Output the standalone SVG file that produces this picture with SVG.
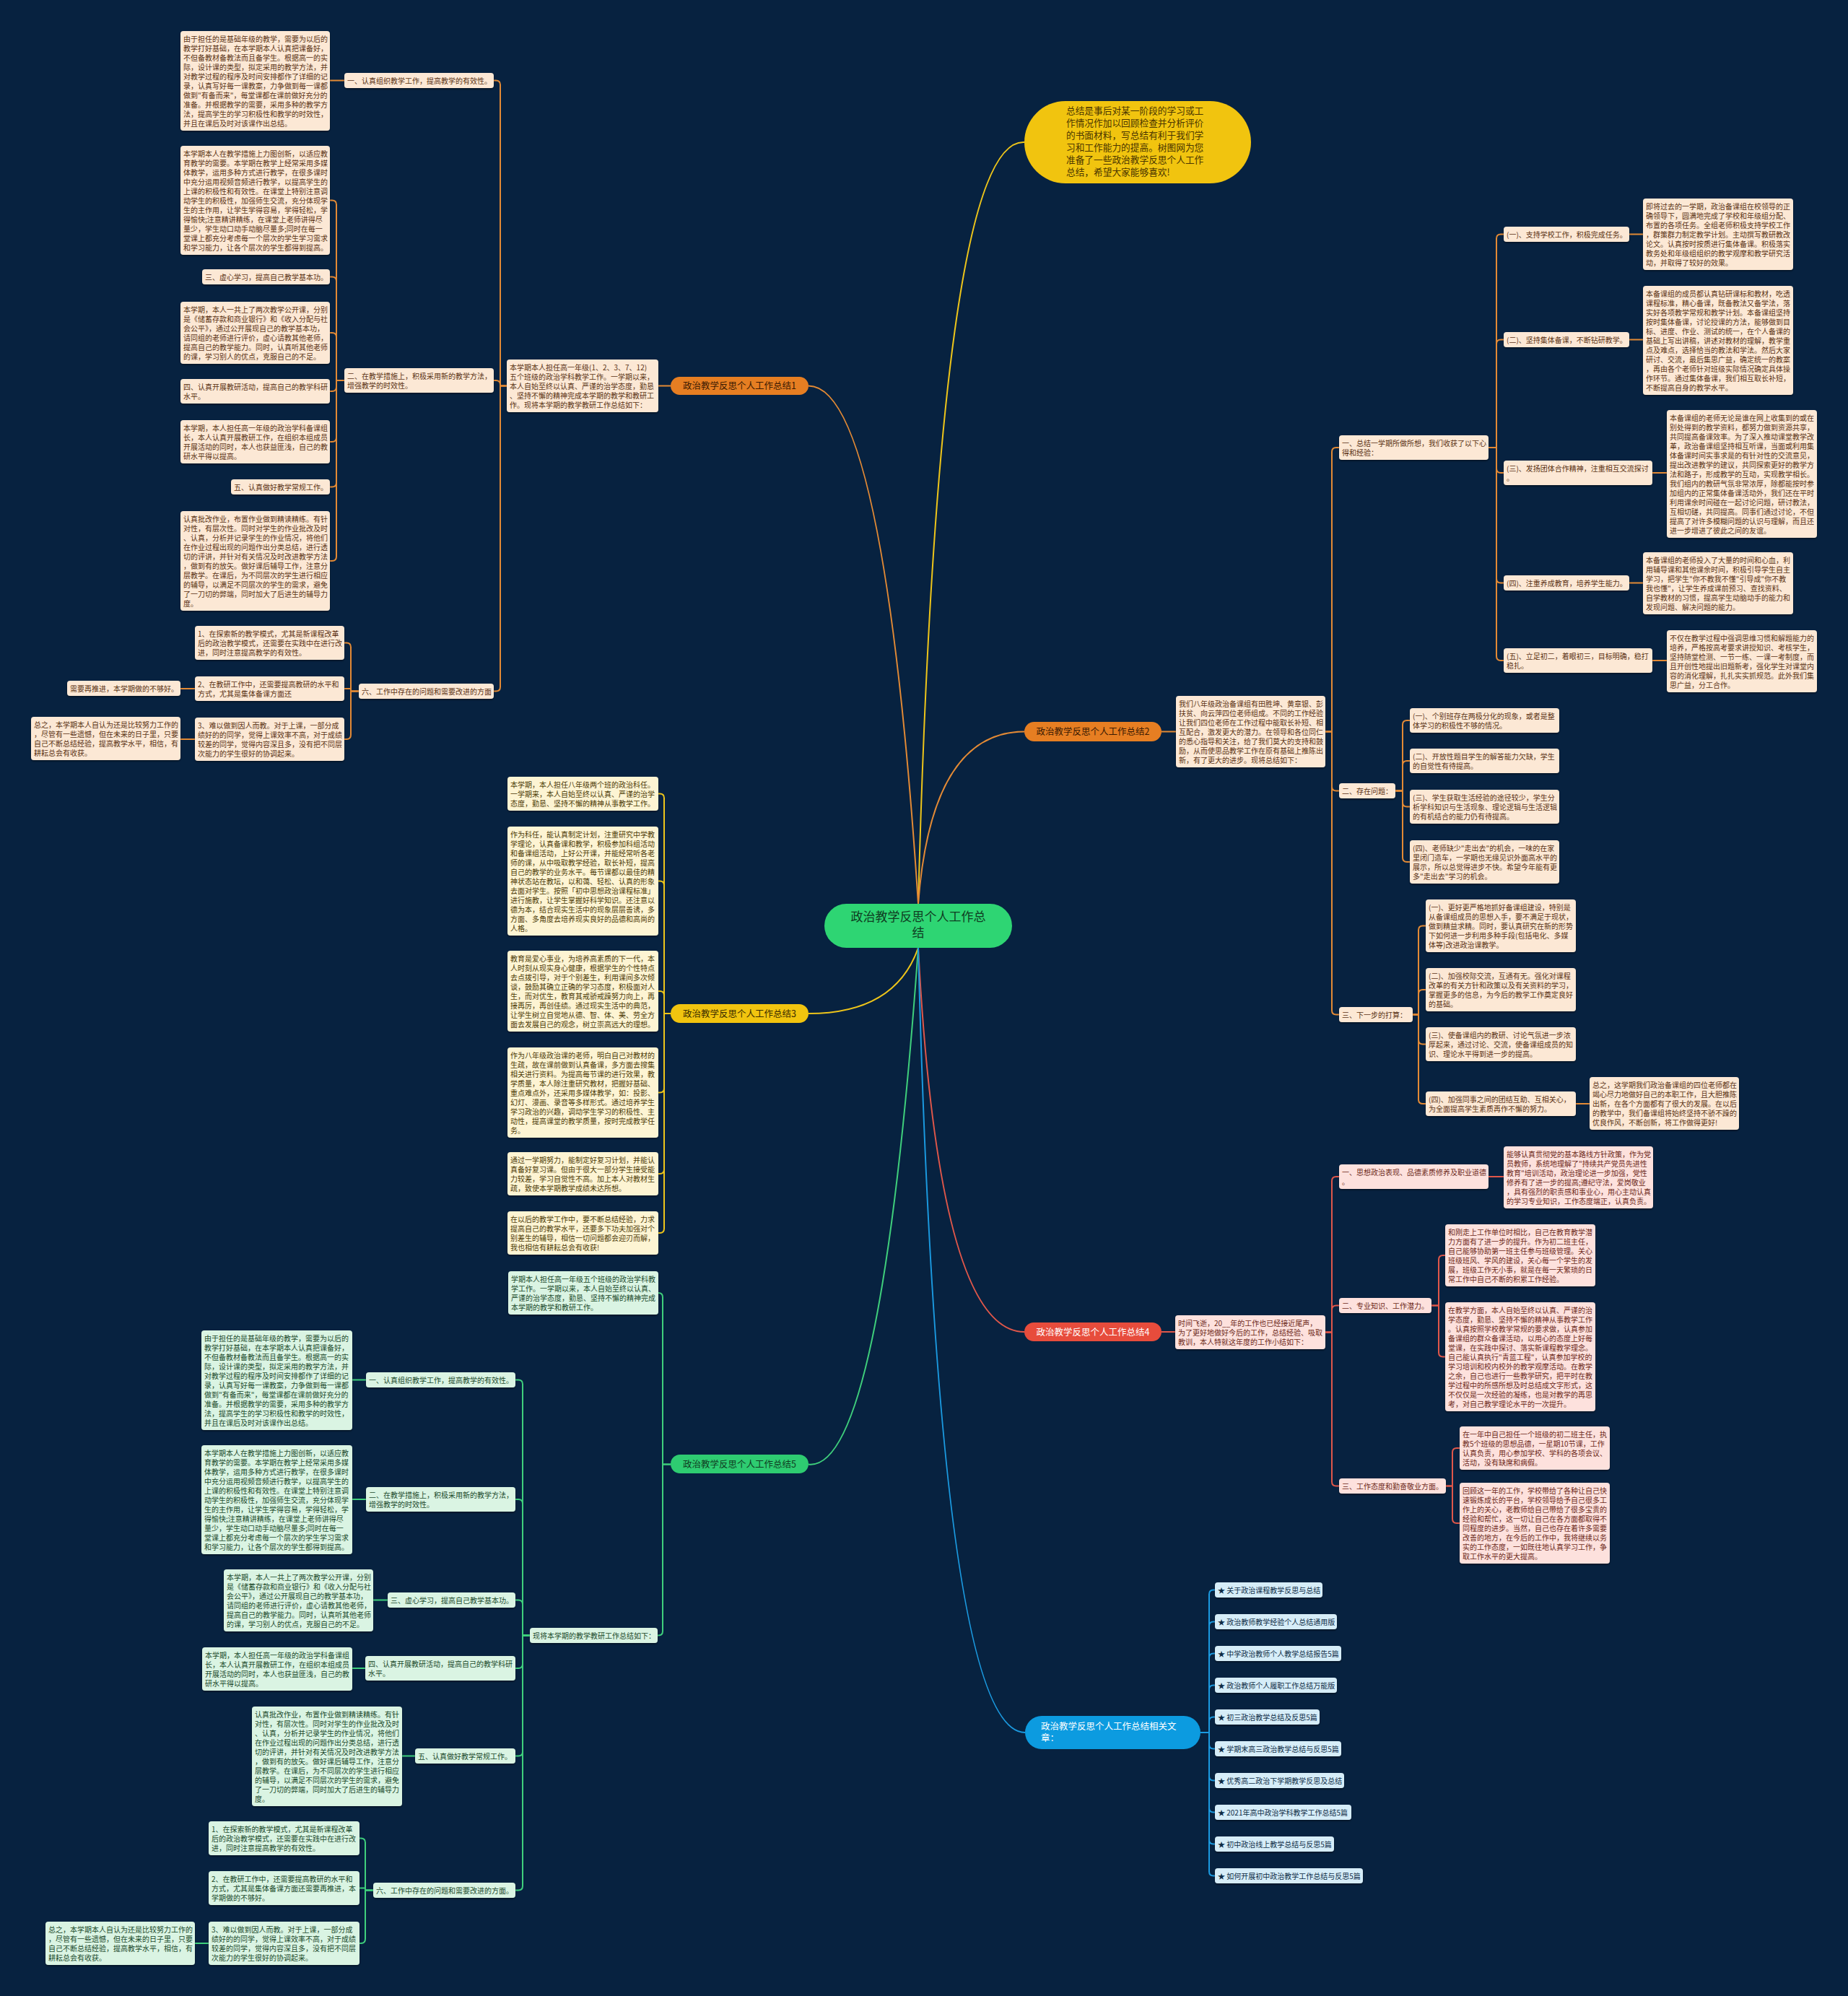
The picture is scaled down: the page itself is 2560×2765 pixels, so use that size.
<svg xmlns="http://www.w3.org/2000/svg" width="2560" height="2765" viewBox="0 0 2560 2765">
<style>
text{font-family:"Noto Sans CJK SC","Noto Sans",sans-serif;font-size:10px}
.bo{fill:#fce8d5}.to{fill:#5b3314}
.by{fill:#fdf4d3}.ty{fill:#4d3b06}
.bg{fill:#daf4e3}.tg{fill:#1b4a2c}
.bp{fill:#fde1dd}.tp{fill:#6e2a20}
.bb{fill:#d6edf8}.tb{fill:#0d2c46}
rect.n{filter:url(#sh)}
.c{fill:none;stroke-width:2}
.co{stroke:#e38a35}.cy{stroke:#eec51a}.cg{stroke:#3fcf7c}.cp{stroke:#e0574a}.cbl{stroke:#1b9ae0}
.bn{font-size:12.5px}
</style>
<defs>
<filter id="sh" x="-5%" y="-5%" width="110%" height="120%"><feDropShadow dx="0" dy="1.5" stdDeviation="1" flood-color="#000" flood-opacity="0.45"/></filter>
</defs>
<rect x="0" y="0" width="2560" height="2765" fill="#072240"/>

<g id="connectors">
<path class="c cy" d="M1272 1252 Q1300 190 1419 197"/>
<path class="c co" d="M1272 1252 Q1225 534.5 1120 534.5"/>
<path class="c co" d="M1272 1252 Q1290 1013.5 1419 1013.5"/>
<path class="c cy" d="M1272 1313 Q1240 1404 1120 1404"/>
<path class="c cp" d="M1272 1313 Q1300 1845 1419 1845"/>
<path class="c cg" d="M1272 1313 Q1220 2040 1120 2028.5"/>
<path class="c cbl" d="M1272 1313 Q1300 2400 1420 2400"/>

<g class="c co">
<path d="M929 534.5 H912"/>
<path d="M702 534.5 H693 V117.5 Q693 111.5 687 111.5 H684"/>
<path d="M702 534.5 H693 V533 Q693 527 687 527 H684"/>
<path d="M702 534.5 H693 V951.5 Q693 957.5 687 957.5 H684"/>
<path d="M477 111.5 H457"/>
<path d="M477 527 H466 V283.5 Q466 277.5 460 277.5 H457"/>
<path d="M477 527 H466 V389.5 Q466 383.5 460 383.5 H457"/>
<path d="M477 527 H466 V467 Q466 461 460 461 H457"/>
<path d="M477 527 H466 V536 Q466 542 460 542 H457"/>
<path d="M477 527 H466 V606 Q466 612 460 612 H457"/>
<path d="M477 527 H466 V668.5 Q466 674.5 460 674.5 H457"/>
<path d="M477 527 H466 V771 Q466 777 460 777 H457"/>
<path d="M497 957.5 H486 V896.5 Q486 890.5 480 890.5 H477"/>
<path d="M497 957.5 H486 V954 H477"/>
<path d="M497 957.5 H486 V1018 Q486 1024 480 1024 H477"/>
<path d="M270 954 H250"/>
<path d="M270 1024 H250"/>
</g>

<g class="c cy">
<path d="M929 1404 H920 V1105.5 Q920 1099.5 914 1099.5 H912"/>
<path d="M929 1404 H920 V1226.5 Q920 1220.5 914 1220.5 H912"/>
<path d="M929 1404 H920 V1379 Q920 1373 914 1373 H912"/>
<path d="M929 1404 H920 V1507.5 Q920 1513.5 914 1513.5 H912"/>
<path d="M929 1404 H920 V1620 Q920 1626 914 1626 H912"/>
<path d="M929 1404 H920 V1702 Q920 1708 914 1708 H912"/>
</g>

<g class="c cg">
<path d="M929 2028.5 H918 V1797 Q918 1791 912 1791"/>
<path d="M929 2028.5 H918 V2259.5 Q918 2265.5 912 2265.5 H911"/>
<path d="M734 2265.5 H724 V1917.5 Q724 1911.5 718 1911.5 H714"/>
<path d="M734 2265.5 H724 V2083 Q724 2077 718 2077 H714"/>
<path d="M734 2265.5 H724 V2222.5 Q724 2216.5 718 2216.5 H714"/>
<path d="M734 2265.5 H724 V2305 Q724 2311 718 2311 H714"/>
<path d="M734 2265.5 H724 V2426.5 Q724 2432.5 718 2432.5 H714"/>
<path d="M734 2265.5 H724 V2612.5 Q724 2618.5 718 2618.5 H714"/>
<path d="M507 1911.5 H488"/>
<path d="M507 2077 H488"/>
<path d="M537 2216.5 H517"/>
<path d="M506 2311 H488"/>
<path d="M575 2432.5 H557"/>
<path d="M517 2618.5 H506 V2552.5 Q506 2546.5 500 2546.5 H498"/>
<path d="M517 2618.5 H506 V2615.5 H498"/>
<path d="M517 2618.5 H506 V2686 Q506 2692 500 2692 H498"/>
<path d="M289 2692 H270"/>
</g>

<g class="c co">
<path d="M1609 1013.5 H1629"/>
<path d="M1836 1013.5 H1845 V626 Q1845 620 1851 620 H1855"/>
<path d="M1836 1013.5 H1845 V1089.5 Q1845 1095.5 1851 1095.5 H1855"/>
<path d="M1836 1013.5 H1845 V1399.5 Q1845 1405.5 1851 1405.5 H1855"/>
<path d="M2062 620 H2073 V330.5 Q2073 324.5 2079 324.5 H2083"/>
<path d="M2062 620 H2073 V476.5 Q2073 470.5 2079 470.5 H2083"/>
<path d="M2062 620 H2073 V649 Q2073 655 2079 655 H2083"/>
<path d="M2062 620 H2073 V801.5 Q2073 807.5 2079 807.5 H2083"/>
<path d="M2062 620 H2073 V909 Q2073 915 2079 915 H2083"/>
<path d="M2257 324.5 H2276"/>
<path d="M2257 470.5 H2276"/>
<path d="M2289 655 H2309"/>
<path d="M2257 807.5 H2276"/>
<path d="M2289 915 H2309"/>
<path d="M1933 1095.5 H1943 V1004 Q1943 998 1949 998 H1953"/>
<path d="M1933 1095.5 H1943 V1060 Q1943 1054 1949 1054 H1953"/>
<path d="M1933 1095.5 H1943 V1111.5 Q1943 1117.5 1949 1117.5 H1953"/>
<path d="M1933 1095.5 H1943 V1188 Q1943 1194 1949 1194 H1953"/>
<path d="M1957 1405.5 H1965 V1288.5 Q1965 1282.5 1971 1282.5 H1975"/>
<path d="M1957 1405.5 H1965 V1377 Q1965 1371 1971 1371 H1975"/>
<path d="M1957 1405.5 H1965 V1440.5 Q1965 1446.5 1971 1446.5 H1975"/>
<path d="M1957 1405.5 H1965 V1523 Q1965 1529 1971 1529 H1975"/>
<path d="M2183 1529 H2202"/>
</g>

<g class="c cp">
<path d="M1609 1845 H1628"/>
<path d="M1836 1845.5 H1845 V1636 Q1845 1630 1851 1630 H1855"/>
<path d="M1836 1845.5 H1845 V1814.5 Q1845 1808.5 1851 1808.5 H1855"/>
<path d="M1836 1845.5 H1845 V2052.5 Q1845 2058.5 1851 2058.5 H1855"/>
<path d="M2062 1630 H2083"/>
<path d="M1983 1808.5 H1993 V1745 Q1993 1739 1999 1739 H2002"/>
<path d="M1983 1808.5 H1993 V1873.5 Q1993 1879.5 1999 1879.5 H2002"/>
<path d="M2003 2058.5 H2012 V2012 Q2012 2006 2018 2006 H2022"/>
<path d="M2003 2058.5 H2012 V2104 Q2012 2110 2018 2110 H2022"/>
</g>

<g class="c cbl">
<path d="M1663 2400 H1675 V2208.5 Q1675 2202.5 1681 2202.5 H1683"/>
<path d="M1663 2400 H1675 V2252.5 Q1675 2246.5 1681 2246.5 H1683"/>
<path d="M1663 2400 H1675 V2296.5 Q1675 2290.5 1681 2290.5 H1683"/>
<path d="M1663 2400 H1675 V2340.5 Q1675 2334.5 1681 2334.5 H1683"/>
<path d="M1663 2400 H1675 V2384.5 Q1675 2378.5 1681 2378.5 H1683"/>
<path d="M1663 2400 H1675 V2416.5 Q1675 2422.5 1681 2422.5 H1683"/>
<path d="M1663 2400 H1675 V2460.5 Q1675 2466.5 1681 2466.5 H1683"/>
<path d="M1663 2400 H1675 V2504.5 Q1675 2510.5 1681 2510.5 H1683"/>
<path d="M1663 2400 H1675 V2548.5 Q1675 2554.5 1681 2554.5 H1683"/>
<path d="M1663 2400 H1675 V2592.5 Q1675 2598.5 1681 2598.5 H1683"/>
</g>
</g>

<g id="center"><rect x="1142" y="1252" width="260" height="61" rx="30.5" fill="#2ed573"/><text x="1272" y="1275.5" text-anchor="middle" style="font-size:17px" fill="#0f3d22"><tspan x="1272">政治教学反思个人工作总</tspan><tspan x="1272" dy="22">结</tspan></text></g>

<g id="intro"><rect x="1419" y="140" width="314" height="114" rx="57" fill="#f1c40f"/><text x="1477" y="158" style="font-size:12.7px" fill="#4a3500"><tspan x="1477">总结是事后对某一阶段的学习或工</tspan><tspan x="1477" dy="17">作情况作加以回顾检查并分析评价</tspan><tspan x="1477" dy="17">的书面材料，写总结有利于我们学</tspan><tspan x="1477" dy="17">习和工作能力的提高。树图网为您</tspan><tspan x="1477" dy="17">准备了一些政治教学反思个人工作</tspan><tspan x="1477" dy="17">总结，希望大家能够喜欢!</tspan></text></g>

<g id="branch1"><rect x="929" y="522" width="191" height="25" rx="12.5" fill="#e67e22"/><text class="bn" x="1024.5" y="539" text-anchor="middle" fill="#3b1a02">政治教学反思个人工作总结1</text></g>
<g id="branch2"><rect x="1419" y="1000" width="190" height="27" rx="13.5" fill="#e67e22"/><text class="bn" x="1514" y="1018" text-anchor="middle" fill="#3b1a02">政治教学反思个人工作总结2</text></g>
<g id="branch3"><rect x="929" y="1391" width="191" height="26" rx="13" fill="#f1c40f"/><text class="bn" x="1024.5" y="1408.5" text-anchor="middle" fill="#3a2c00">政治教学反思个人工作总结3</text></g>
<g id="branch4"><rect x="1419" y="1832" width="190" height="26" rx="13" fill="#e74c3c"/><text class="bn" x="1514" y="1849.5" text-anchor="middle" fill="#ffffff">政治教学反思个人工作总结4</text></g>
<g id="branch5"><rect x="929" y="2015" width="191" height="26" rx="13" fill="#2ecc71"/><text class="bn" x="1024.5" y="2032.5" text-anchor="middle" fill="#0f3d22">政治教学反思个人工作总结5</text></g>
<g id="branch6"><rect x="1420" y="2377" width="243" height="46" rx="23" fill="#0c9be0"/><text class="bn" x="1442" y="2396" fill="#ffffff"><tspan x="1442">政治教学反思个人工作总结相关文</tspan><tspan x="1442" dy="16">章：</tspan></text></g>

<!-- Branch 1 -->
<g id="b1-intro"><rect class="n bo" x="702" y="498" width="210" height="73" rx="4"/><text class="to" x="706" y="512.5"><tspan x="706">本学期本人担任高一年级(1、2、3、7、12)</tspan><tspan x="706" dy="13">五个班级的政治学科教学工作。一学期以来，</tspan><tspan x="706" dy="13">本人自始至终以认真、严谨的治学态度，勤恳</tspan><tspan x="706" dy="13">、坚持不懈的精神完成本学期的教学和教研工</tspan><tspan x="706" dy="13">作。现将本学期的教学教研工作总结如下：</tspan></text></g>
<g id="b1-1"><rect class="n bo" x="477" y="101" width="207" height="21" rx="4"/><text class="to" x="481" y="115.5">一、认真组织教学工作，提高教学的有效性。</text></g>
<g id="b1-1a"><rect class="n bo" x="250" y="43" width="207" height="138" rx="4"/><text class="to" x="254" y="57.5"><tspan x="254">由于担任的是基础年级的教学，需要为以后的</tspan><tspan x="254" dy="13">教学打好基础，在本学期本人认真把课备好，</tspan><tspan x="254" dy="13">不但备教材备教法而且备学生。根据高一的实</tspan><tspan x="254" dy="13">际，设计课的类型，拟定采用的教学方法，并</tspan><tspan x="254" dy="13">对教学过程的程序及时间安排都作了详细的记</tspan><tspan x="254" dy="13">录，认真写好每一课教案，力争做到每一课都</tspan><tspan x="254" dy="13">做到"有备而来"，每堂课都在课前做好充分的</tspan><tspan x="254" dy="13">准备。并根据教学的需要，采用多种的教学方</tspan><tspan x="254" dy="13">法，提高学生的学习积极性和教学的时效性，</tspan><tspan x="254" dy="13">并且在课后及时对该课作出总结。</tspan></text></g>
<g id="b1-2"><rect class="n bo" x="477" y="510" width="207" height="34" rx="4"/><text class="to" x="481" y="524.5"><tspan x="481">二、在教学措施上，积极采用新的教学方法，</tspan><tspan x="481" dy="13">增强教学的时效性。</tspan></text></g>
<g id="b1-2a"><rect class="n bo" x="250" y="202" width="207" height="151" rx="4"/><text class="to" x="254" y="216.5"><tspan x="254">本学期本人在教学措施上力图创新，以适应教</tspan><tspan x="254" dy="13">育教学的需要。本学期在教学上经常采用多媒</tspan><tspan x="254" dy="13">体教学，运用多种方式进行教学，在很多课时</tspan><tspan x="254" dy="13">中充分运用视频音频进行教学，以提高学生的</tspan><tspan x="254" dy="13">上课的积极性和有效性。在课堂上特别注意调</tspan><tspan x="254" dy="13">动学生的积极性，加强师生交流，充分体现学</tspan><tspan x="254" dy="13">生的主作用，让学生学得容易，学得轻松，学</tspan><tspan x="254" dy="13">得愉快;注意精讲精练，在课堂上老师讲得尽</tspan><tspan x="254" dy="13">量少，学生动口动手动脑尽量多;同时在每一</tspan><tspan x="254" dy="13">堂课上都充分考虑每一个层次的学生学习需求</tspan><tspan x="254" dy="13">和学习能力，让各个层次的学生都得到提高。</tspan></text></g>
<g id="b1-2b"><rect class="n bo" x="280" y="373" width="177" height="21" rx="4"/><text class="to" x="284" y="387.5">三、虚心学习，提高自己教学基本功。</text></g>
<g id="b1-2c"><rect class="n bo" x="250" y="418" width="207" height="86" rx="4"/><text class="to" x="254" y="432.5"><tspan x="254">本学期，本人一共上了两次教学公开课，分别</tspan><tspan x="254" dy="13">是《储蓄存款和商业银行》和《收入分配与社</tspan><tspan x="254" dy="13">会公平》，通过公开展现自己的教学基本功，</tspan><tspan x="254" dy="13">请同组的老师进行评价，虚心请教其他老师，</tspan><tspan x="254" dy="13">提高自己的教学能力。同时，认真听其他老师</tspan><tspan x="254" dy="13">的课，学习别人的优点，克服自己的不足。</tspan></text></g>
<g id="b1-2d"><rect class="n bo" x="250" y="525" width="207" height="34" rx="4"/><text class="to" x="254" y="539.5"><tspan x="254">四、认真开展教研活动，提高自己的教学科研</tspan><tspan x="254" dy="13">水平。</tspan></text></g>
<g id="b1-2e"><rect class="n bo" x="250" y="582" width="207" height="60" rx="4"/><text class="to" x="254" y="596.5"><tspan x="254">本学期，本人担任高一年级的政治学科备课组</tspan><tspan x="254" dy="13">长，本人认真开展教研工作，在组织本组成员</tspan><tspan x="254" dy="13">开展活动的同时，本人也获益匪浅，自己的教</tspan><tspan x="254" dy="13">研水平得以提高。</tspan></text></g>
<g id="b1-2f"><rect class="n bo" x="320" y="664" width="137" height="21" rx="4"/><text class="to" x="324" y="678.5">五、认真做好教学常规工作。</text></g>
<g id="b1-2g"><rect class="n bo" x="250" y="708" width="207" height="138" rx="4"/><text class="to" x="254" y="722.5"><tspan x="254">认真批改作业，布置作业做到精读精练。有针</tspan><tspan x="254" dy="13">对性，有层次性。同时对学生的作业批改及时</tspan><tspan x="254" dy="13">、认真，分析并记录学生的作业情况，将他们</tspan><tspan x="254" dy="13">在作业过程出现的问题作出分类总结，进行透</tspan><tspan x="254" dy="13">切的评讲，并针对有关情况及时改进教学方法</tspan><tspan x="254" dy="13">，做到有的放矢。做好课后辅导工作，注意分</tspan><tspan x="254" dy="13">层教学。在课后，为不同层次的学生进行相应</tspan><tspan x="254" dy="13">的辅导，以满足不同层次的学生的需求，避免</tspan><tspan x="254" dy="13">了一刀切的弊端，同时加大了后进生的辅导力</tspan><tspan x="254" dy="13">度。</tspan></text></g>
<g id="b1-6"><rect class="n bo" x="497" y="947" width="187" height="21" rx="4"/><text class="to" x="501" y="961.5">六、工作中存在的问题和需要改进的方面</text></g>
<g id="b1-6a"><rect class="n bo" x="270" y="867" width="207" height="47" rx="4"/><text class="to" x="274" y="881.5"><tspan x="274">1、在探索新的教学模式，尤其是新课程改革</tspan><tspan x="274" dy="13">后的政治教学模式，还需要在实践中在进行改</tspan><tspan x="274" dy="13">进，同时注意提高教学的有效性。</tspan></text></g>
<g id="b1-6b"><rect class="n bo" x="270" y="937" width="207" height="34" rx="4"/><text class="to" x="274" y="951.5"><tspan x="274">2、在教研工作中，还需要提高教研的水平和</tspan><tspan x="274" dy="13">方式，尤其是集体备课方面还</tspan></text></g>
<g id="b1-6b1"><rect class="n bo" x="93" y="943" width="157" height="21" rx="4"/><text class="to" x="97" y="957.5">需要再推进，本学期做的不够好。</text></g>
<g id="b1-6c"><rect class="n bo" x="270" y="994" width="207" height="60" rx="4"/><text class="to" x="274" y="1008.5"><tspan x="274">3、难以做到因人而教。对于上课，一部分成</tspan><tspan x="274" dy="13">绩好的的同学，觉得上课效率不高，对于成绩</tspan><tspan x="274" dy="13">较差的同学，觉得内容深且多，没有把不同层</tspan><tspan x="274" dy="13">次能力的学生很好的协调起来。</tspan></text></g>
<g id="b1-6c1"><rect class="n bo" x="43" y="993" width="207" height="60" rx="4"/><text class="to" x="47" y="1007.5"><tspan x="47">总之，本学期本人自认为还是比较努力工作的</tspan><tspan x="47" dy="13">，尽管有一些遗憾，但在未来的日子里，只要</tspan><tspan x="47" dy="13">自己不断总结经验，提高教学水平，相信，有</tspan><tspan x="47" dy="13">耕耘总会有收获。</tspan></text></g>

<!-- Branch 3 -->
<g id="b3-1"><rect class="n by" x="703" y="1076" width="209" height="47" rx="4"/><text class="ty" x="707" y="1090.5"><tspan x="707">本学期，本人担任八年级两个班的政治科任。</tspan><tspan x="707" dy="13">一学期来，本人自始至终以认真、严谨的治学</tspan><tspan x="707" dy="13">态度，勤恳、坚持不懈的精神从事教学工作。</tspan></text></g>
<g id="b3-2"><rect class="n by" x="703" y="1145" width="209" height="151" rx="4"/><text class="ty" x="707" y="1159.5"><tspan x="707">作为科任，能认真制定计划，注重研究中学教</tspan><tspan x="707" dy="13">学理论，认真备课和教学，积极参加科组活动</tspan><tspan x="707" dy="13">和备课组活动，上好公开课，并能经常听各老</tspan><tspan x="707" dy="13">师的课，从中吸取教学经验，取长补短，提高</tspan><tspan x="707" dy="13">自己的教学的业务水平。每节课都以最佳的精</tspan><tspan x="707" dy="13">神状态站在教坛，以和蔼、轻松、认真的形象</tspan><tspan x="707" dy="13">去面对学生。按照「初中思想政治课程标准」</tspan><tspan x="707" dy="13">进行施教，让学生掌握好科学知识。还注意以</tspan><tspan x="707" dy="13">德为本，结合现实生活中的现象层层善诱，多</tspan><tspan x="707" dy="13">方面、多角度去培养现实良好的品德和高尚的</tspan><tspan x="707" dy="13">人格。</tspan></text></g>
<g id="b3-3"><rect class="n by" x="703" y="1317" width="209" height="112" rx="4"/><text class="ty" x="707" y="1331.5"><tspan x="707">教育是爱心事业，为培养高素质的下一代，本</tspan><tspan x="707" dy="13">人时刻从现实身心健康，根据学生的个性特点</tspan><tspan x="707" dy="13">去点拨引导，对于个别差生，利用课间多次倾</tspan><tspan x="707" dy="13">谈，鼓励其确立正确的学习态度，积极面对人</tspan><tspan x="707" dy="13">生，而对优生，教育其戒骄戒躁努力向上，再</tspan><tspan x="707" dy="13">接再厉，再创佳绩。通过现实生活中的典范，</tspan><tspan x="707" dy="13">让学生树立自觉地从德、智、体、美、劳全方</tspan><tspan x="707" dy="13">面去发展自己的观念，树立崇高远大的理想。</tspan></text></g>
<g id="b3-4"><rect class="n by" x="703" y="1451" width="209" height="125" rx="4"/><text class="ty" x="707" y="1465.5"><tspan x="707">作为八年级政治课的老师，明白自己对教材的</tspan><tspan x="707" dy="13">生疏，故在课前做到认真备课，多方面去搜集</tspan><tspan x="707" dy="13">相关进行资料。为提高每节课的进行效果，教</tspan><tspan x="707" dy="13">学质量，本人除注重研究教材，把握好基础、</tspan><tspan x="707" dy="13">重点难点外，还采用多媒体教学，如：投影、</tspan><tspan x="707" dy="13">幻灯、漫画、录音等多样形式。通过培养学生</tspan><tspan x="707" dy="13">学习政治的兴趣，调动学生学习的积极性、主</tspan><tspan x="707" dy="13">动性，提高课堂的教学质量，按时完成教学任</tspan><tspan x="707" dy="13">务。</tspan></text></g>
<g id="b3-5"><rect class="n by" x="703" y="1596" width="209" height="60" rx="4"/><text class="ty" x="707" y="1610.5"><tspan x="707">通过一学期努力，能制定好复习计划，并能认</tspan><tspan x="707" dy="13">真备好复习课。但由于很大一部分学生接受能</tspan><tspan x="707" dy="13">力较差，学习自觉性不高。加上本人对教材生</tspan><tspan x="707" dy="13">疏，致使本学期教学成绩未达所想。</tspan></text></g>
<g id="b3-6"><rect class="n by" x="703" y="1678" width="209" height="60" rx="4"/><text class="ty" x="707" y="1692.5"><tspan x="707">在以后的教学工作中，要不断总结经验，力求</tspan><tspan x="707" dy="13">提高自己的教学水平，还要多下功夫加强对个</tspan><tspan x="707" dy="13">别差生的辅导，相信一切问题都会迎刃而解，</tspan><tspan x="707" dy="13">我也相信有耕耘总会有收获!</tspan></text></g>

<!-- Branch 5 -->
<g id="b5-intro"><rect class="n bg" x="704" y="1761" width="208" height="60" rx="4"/><text class="tg" x="708" y="1775.5"><tspan x="708">学期本人担任高一年级五个班级的政治学科教</tspan><tspan x="708" dy="13">学工作。一学期以来，本人自始至终以认真、</tspan><tspan x="708" dy="13">严谨的治学态度，勤恳、坚持不懈的精神完成</tspan><tspan x="708" dy="13">本学期的教学和教研工作。</tspan></text></g>
<g id="b5-sum"><rect class="n bg" x="734" y="2255" width="177" height="21" rx="4"/><text class="tg" x="738" y="2269.5">现将本学期的教学教研工作总结如下：</text></g>
<g id="b5-1"><rect class="n bg" x="507" y="1901" width="207" height="21" rx="4"/><text class="tg" x="511" y="1915.5">一、认真组织教学工作，提高教学的有效性。</text></g>
<g id="b5-1a"><rect class="n bg" x="279" y="1843" width="209" height="138" rx="4"/><text class="tg" x="283" y="1857.5"><tspan x="283">由于担任的是基础年级的教学，需要为以后的</tspan><tspan x="283" dy="13">教学打好基础，在本学期本人认真把课备好，</tspan><tspan x="283" dy="13">不但备教材备教法而且备学生。根据高一的实</tspan><tspan x="283" dy="13">际，设计课的类型，拟定采用的教学方法，并</tspan><tspan x="283" dy="13">对教学过程的程序及时间安排都作了详细的记</tspan><tspan x="283" dy="13">录，认真写好每一课教案，力争做到每一课都</tspan><tspan x="283" dy="13">做到"有备而来"，每堂课都在课前做好充分的</tspan><tspan x="283" dy="13">准备。并根据教学的需要，采用多种的教学方</tspan><tspan x="283" dy="13">法，提高学生的学习积极性和教学的时效性，</tspan><tspan x="283" dy="13">并且在课后及时对该课作出总结。</tspan></text></g>
<g id="b5-2"><rect class="n bg" x="507" y="2060" width="207" height="34" rx="4"/><text class="tg" x="511" y="2074.5"><tspan x="511">二、在教学措施上，积极采用新的教学方法，</tspan><tspan x="511" dy="13">增强教学的时效性。</tspan></text></g>
<g id="b5-2a"><rect class="n bg" x="279" y="2002" width="209" height="151" rx="4"/><text class="tg" x="283" y="2016.5"><tspan x="283">本学期本人在教学措施上力图创新，以适应教</tspan><tspan x="283" dy="13">育教学的需要。本学期在教学上经常采用多媒</tspan><tspan x="283" dy="13">体教学，运用多种方式进行教学，在很多课时</tspan><tspan x="283" dy="13">中充分运用视频音频进行教学，以提高学生的</tspan><tspan x="283" dy="13">上课的积极性和有效性。在课堂上特别注意调</tspan><tspan x="283" dy="13">动学生的积极性，加强师生交流，充分体现学</tspan><tspan x="283" dy="13">生的主作用，让学生学得容易，学得轻松，学</tspan><tspan x="283" dy="13">得愉快;注意精讲精练，在课堂上老师讲得尽</tspan><tspan x="283" dy="13">量少，学生动口动手动脑尽量多;同时在每一</tspan><tspan x="283" dy="13">堂课上都充分考虑每一个层次的学生学习需求</tspan><tspan x="283" dy="13">和学习能力，让各个层次的学生都得到提高。</tspan></text></g>
<g id="b5-3"><rect class="n bg" x="537" y="2206" width="177" height="21" rx="4"/><text class="tg" x="541" y="2220.5">三、虚心学习，提高自己教学基本功。</text></g>
<g id="b5-3a"><rect class="n bg" x="310" y="2174" width="207" height="86" rx="4"/><text class="tg" x="314" y="2188.5"><tspan x="314">本学期，本人一共上了两次教学公开课，分别</tspan><tspan x="314" dy="13">是《储蓄存款和商业银行》和《收入分配与社</tspan><tspan x="314" dy="13">会公平》，通过公开展现自己的教学基本功，</tspan><tspan x="314" dy="13">请同组的老师进行评价，虚心请教其他老师，</tspan><tspan x="314" dy="13">提高自己的教学能力。同时，认真听其他老师</tspan><tspan x="314" dy="13">的课，学习别人的优点，克服自己的不足。</tspan></text></g>
<g id="b5-4"><rect class="n bg" x="506" y="2294" width="208" height="34" rx="4"/><text class="tg" x="510" y="2308.5"><tspan x="510">四、认真开展教研活动，提高自己的教学科研</tspan><tspan x="510" dy="13">水平。</tspan></text></g>
<g id="b5-4a"><rect class="n bg" x="280" y="2282" width="208" height="60" rx="4"/><text class="tg" x="284" y="2296.5"><tspan x="284">本学期，本人担任高一年级的政治学科备课组</tspan><tspan x="284" dy="13">长，本人认真开展教研工作，在组织本组成员</tspan><tspan x="284" dy="13">开展活动的同时，本人也获益匪浅，自己的教</tspan><tspan x="284" dy="13">研水平得以提高。</tspan></text></g>
<g id="b5-5"><rect class="n bg" x="575" y="2422" width="139" height="21" rx="4"/><text class="tg" x="579" y="2436.5">五、认真做好教学常规工作。</text></g>
<g id="b5-5a"><rect class="n bg" x="349" y="2364" width="208" height="138" rx="4"/><text class="tg" x="353" y="2378.5"><tspan x="353">认真批改作业，布置作业做到精读精练。有针</tspan><tspan x="353" dy="13">对性，有层次性。同时对学生的作业批改及时</tspan><tspan x="353" dy="13">、认真，分析并记录学生的作业情况，将他们</tspan><tspan x="353" dy="13">在作业过程出现的问题作出分类总结，进行透</tspan><tspan x="353" dy="13">切的评讲，并针对有关情况及时改进教学方法</tspan><tspan x="353" dy="13">，做到有的放矢。做好课后辅导工作，注意分</tspan><tspan x="353" dy="13">层教学。在课后，为不同层次的学生进行相应</tspan><tspan x="353" dy="13">的辅导，以满足不同层次的学生的需求，避免</tspan><tspan x="353" dy="13">了一刀切的弊端，同时加大了后进生的辅导力</tspan><tspan x="353" dy="13">度。</tspan></text></g>
<g id="b5-6"><rect class="n bg" x="517" y="2608" width="197" height="21" rx="4"/><text class="tg" x="521" y="2622.5">六、工作中存在的问题和需要改进的方面。</text></g>
<g id="b5-6a"><rect class="n bg" x="289" y="2523" width="209" height="47" rx="4"/><text class="tg" x="293" y="2537.5"><tspan x="293">1、在探索新的教学模式，尤其是新课程改革</tspan><tspan x="293" dy="13">后的政治教学模式，还需要在实践中在进行改</tspan><tspan x="293" dy="13">进，同时注意提高教学的有效性。</tspan></text></g>
<g id="b5-6b"><rect class="n bg" x="289" y="2592" width="209" height="47" rx="4"/><text class="tg" x="293" y="2606.5"><tspan x="293">2、在教研工作中，还需要提高教研的水平和</tspan><tspan x="293" dy="13">方式，尤其是集体备课方面还需要再推进，本</tspan><tspan x="293" dy="13">学期做的不够好。</tspan></text></g>
<g id="b5-6c"><rect class="n bg" x="289" y="2662" width="209" height="60" rx="4"/><text class="tg" x="293" y="2676.5"><tspan x="293">3、难以做到因人而教。对于上课，一部分成</tspan><tspan x="293" dy="13">绩好的的同学，觉得上课效率不高，对于成绩</tspan><tspan x="293" dy="13">较差的同学，觉得内容深且多，没有把不同层</tspan><tspan x="293" dy="13">次能力的学生很好的协调起来。</tspan></text></g>
<g id="b5-6c1"><rect class="n bg" x="63" y="2662" width="207" height="60" rx="4"/><text class="tg" x="67" y="2676.5"><tspan x="67">总之，本学期本人自认为还是比较努力工作的</tspan><tspan x="67" dy="13">，尽管有一些遗憾，但在未来的日子里，只要</tspan><tspan x="67" dy="13">自己不断总结经验，提高教学水平，相信，有</tspan><tspan x="67" dy="13">耕耘总会有收获。</tspan></text></g>

<!-- Branch 2 -->
<g id="b2-intro"><rect class="n bo" x="1629" y="964" width="207" height="99" rx="4"/><text class="to" x="1633" y="978.5"><tspan x="1633">我们八年级政治备课组有田胜坤、黄章银、彭</tspan><tspan x="1633" dy="13">扶贫、向云萍四位老师组成。不同的工作经验</tspan><tspan x="1633" dy="13">让我们四位老师在工作过程中能取长补短、相</tspan><tspan x="1633" dy="13">互配合，激发更大的潜力。在领导和各位同仁</tspan><tspan x="1633" dy="13">的悉心指导和关注，给了我们莫大的支持和鼓</tspan><tspan x="1633" dy="13">励，从而使思品教学工作在原有基础上推陈出</tspan><tspan x="1633" dy="13">新，有了更大的进步。现将总结如下：</tspan></text></g>
<g id="b2-1"><rect class="n bo" x="1855" y="603" width="207" height="34" rx="4"/><text class="to" x="1859" y="617.5"><tspan x="1859">一、总结一学期所做所想，我们收获了以下心</tspan><tspan x="1859" dy="13">得和经验：</tspan></text></g>
<g id="b2-1a"><rect class="n bo" x="2083" y="314" width="174" height="21" rx="4"/><text class="to" x="2087" y="328.5">(一)、支持学校工作，积极完成任务。</text></g>
<g id="b2-1a1"><rect class="n bo" x="2276" y="275" width="208" height="99" rx="4"/><text class="to" x="2280" y="289.5"><tspan x="2280">即将过去的一学期，政治备课组在校领导的正</tspan><tspan x="2280" dy="13">确领导下，圆满地完成了学校和年级组分配、</tspan><tspan x="2280" dy="13">布置的各项任务。全组老师积极支持学校工作</tspan><tspan x="2280" dy="13">，群策群力制定教学计划。主动撰写教研教改</tspan><tspan x="2280" dy="13">论文。认真按时按质进行集体备课。积极落实</tspan><tspan x="2280" dy="13">教务处和年级组组织的教学观摩和教学研究活</tspan><tspan x="2280" dy="13">动，并取得了较好的效果。</tspan></text></g>
<g id="b2-1b"><rect class="n bo" x="2083" y="460" width="174" height="21" rx="4"/><text class="to" x="2087" y="474.5">(二)、坚持集体备课，不断钻研教学。</text></g>
<g id="b2-1b1"><rect class="n bo" x="2276" y="396" width="208" height="151" rx="4"/><text class="to" x="2280" y="410.5"><tspan x="2280">本备课组的成员都认真钻研课标和教材，吃透</tspan><tspan x="2280" dy="13">课程标准，精心备课，既备教法又备学法，落</tspan><tspan x="2280" dy="13">实好各项教学常规和教学计划。本备课组坚持</tspan><tspan x="2280" dy="13">按时集体备课，讨论授课的方法，能够做到目</tspan><tspan x="2280" dy="13">标、进度、作业、测试的统一，在个人备课的</tspan><tspan x="2280" dy="13">基础上写出讲稿，讲述对教材的理解，教学重</tspan><tspan x="2280" dy="13">点及难点，选择恰当的教法和学法。然后大家</tspan><tspan x="2280" dy="13">研讨、交流，最后集思广益，确定统一的教案</tspan><tspan x="2280" dy="13">，再由各个老师针对班级实际情况确定具体操</tspan><tspan x="2280" dy="13">作环节。通过集体备课，我们相互取长补短，</tspan><tspan x="2280" dy="13">不断提高自身的教学水平。</tspan></text></g>
<g id="b2-1c"><rect class="n bo" x="2083" y="638" width="206" height="34" rx="4"/><text class="to" x="2087" y="652.5"><tspan x="2087">(三)、发扬团体合作精神，注重相互交流探讨</tspan><tspan x="2087" dy="13">。</tspan></text></g>
<g id="b2-1c1"><rect class="n bo" x="2309" y="568" width="208" height="177" rx="4"/><text class="to" x="2313" y="582.5"><tspan x="2313">本备课组的老师无论是谁在网上收集到的或在</tspan><tspan x="2313" dy="13">别处得到的教学资料，都努力做到资源共享，</tspan><tspan x="2313" dy="13">共同提高备课效率。为了深入推动课堂教学改</tspan><tspan x="2313" dy="13">革，政治备课组坚持相互听课，当面或利用集</tspan><tspan x="2313" dy="13">体备课时间实事求是的有针对性的交流意见，</tspan><tspan x="2313" dy="13">提出改进教学的建议，共同探索更好的教学方</tspan><tspan x="2313" dy="13">法和路子，形成教学的互动，实现教学相长。</tspan><tspan x="2313" dy="13">我们组内的教研气氛非常浓厚，除都能按时参</tspan><tspan x="2313" dy="13">加组内的正常集体备课活动外，我们还在平时</tspan><tspan x="2313" dy="13">利用课余时间碰在一起讨论问题，研讨教法，</tspan><tspan x="2313" dy="13">互相切磋，共同提高。同事们通过讨论，不但</tspan><tspan x="2313" dy="13">提高了对许多模糊问题的认识与理解，而且还</tspan><tspan x="2313" dy="13">进一步增进了彼此之间的友谊。</tspan></text></g>
<g id="b2-1d"><rect class="n bo" x="2083" y="797" width="174" height="21" rx="4"/><text class="to" x="2087" y="811.5">(四)、注重养成教育，培养学生能力。</text></g>
<g id="b2-1d1"><rect class="n bo" x="2276" y="765" width="208" height="86" rx="4"/><text class="to" x="2280" y="779.5"><tspan x="2280">本备课组的老师投入了大量的时间和心血，利</tspan><tspan x="2280" dy="13">用辅导课和其他课余时间，积极引导学生自主</tspan><tspan x="2280" dy="13">学习，把学生"你不教我不懂"引导成"你不教</tspan><tspan x="2280" dy="13">我也懂"，让学生养成课前预习、查找资料、</tspan><tspan x="2280" dy="13">自学教材的习惯，提高学生动脑动手的能力和</tspan><tspan x="2280" dy="13">发现问题、解决问题的能力。</tspan></text></g>
<g id="b2-1e"><rect class="n bo" x="2083" y="898" width="206" height="34" rx="4"/><text class="to" x="2087" y="912.5"><tspan x="2087">(五)、立足初二，着眼初三，目标明确，稳打</tspan><tspan x="2087" dy="13">稳扎。</tspan></text></g>
<g id="b2-1e1"><rect class="n bo" x="2309" y="873" width="208" height="86" rx="4"/><text class="to" x="2313" y="887.5"><tspan x="2313">不仅在教学过程中强调思维习惯和解题能力的</tspan><tspan x="2313" dy="13">培养，严格按高考要求讲授知识、考核学生，</tspan><tspan x="2313" dy="13">坚持随堂检测、一节一练、一课一考制度，而</tspan><tspan x="2313" dy="13">且开创性地提出旧题新考，强化学生对课堂内</tspan><tspan x="2313" dy="13">容的消化理解，扎扎实实抓规范。此外我们集</tspan><tspan x="2313" dy="13">思广益，分工合作。</tspan></text></g>
<g id="b2-2"><rect class="n bo" x="1855" y="1085" width="78" height="21" rx="4"/><text class="to" x="1859" y="1099.5">二、存在问题：</text></g>
<g id="b2-2a"><rect class="n bo" x="1953" y="981" width="207" height="34" rx="4"/><text class="to" x="1957" y="995.5"><tspan x="1957">(一)、个别班存在两极分化的现象，或者是整</tspan><tspan x="1957" dy="13">体学习的积极性不够的情况。</tspan></text></g>
<g id="b2-2b"><rect class="n bo" x="1953" y="1037" width="207" height="34" rx="4"/><text class="to" x="1957" y="1051.5"><tspan x="1957">(二)、开放性题目学生的解答能力欠缺，学生</tspan><tspan x="1957" dy="13">的自觉性有待提高。</tspan></text></g>
<g id="b2-2c"><rect class="n bo" x="1953" y="1094" width="207" height="47" rx="4"/><text class="to" x="1957" y="1108.5"><tspan x="1957">(三)、学生获取生活经验的途径较少，学生分</tspan><tspan x="1957" dy="13">析学科知识与生活现象、理论逻辑与生活逻辑</tspan><tspan x="1957" dy="13">的有机结合的能力仍有待提高。</tspan></text></g>
<g id="b2-2d"><rect class="n bo" x="1953" y="1164" width="207" height="60" rx="4"/><text class="to" x="1957" y="1178.5"><tspan x="1957">(四)、老师缺少"走出去"的机会，一味的在家</tspan><tspan x="1957" dy="13">里闭门造车，一学期也无缘见识外面高水平的</tspan><tspan x="1957" dy="13">展示，所以总觉得进步不快。希望今年能有更</tspan><tspan x="1957" dy="13">多"走出去"学习的机会。</tspan></text></g>
<g id="b2-3"><rect class="n bo" x="1855" y="1395" width="102" height="21" rx="4"/><text class="to" x="1859" y="1409.5">三、下一步的打算：</text></g>
<g id="b2-3a"><rect class="n bo" x="1975" y="1246" width="208" height="73" rx="4"/><text class="to" x="1979" y="1260.5"><tspan x="1979">(一)、更好更严格地抓好备课组建设，特别是</tspan><tspan x="1979" dy="13">从备课组成员的思想入手，要不满足于现状，</tspan><tspan x="1979" dy="13">做到精益求精。同时，要认真研究在新的形势</tspan><tspan x="1979" dy="13">下如何进一步利用多种手段(包括电化、多媒</tspan><tspan x="1979" dy="13">体等)改进政治课教学。</tspan></text></g>
<g id="b2-3b"><rect class="n bo" x="1975" y="1341" width="208" height="60" rx="4"/><text class="to" x="1979" y="1355.5"><tspan x="1979">(二)、加强校际交流，互通有无。强化对课程</tspan><tspan x="1979" dy="13">改革的有关方针和政策以及有关资料的学习，</tspan><tspan x="1979" dy="13">掌握更多的信息，为今后的教学工作奠定良好</tspan><tspan x="1979" dy="13">的基础。</tspan></text></g>
<g id="b2-3c"><rect class="n bo" x="1975" y="1423" width="208" height="47" rx="4"/><text class="to" x="1979" y="1437.5"><tspan x="1979">(三)、使备课组内的教研、讨论气氛进一步浓</tspan><tspan x="1979" dy="13">厚起来，通过讨论、交流，使备课组成员的知</tspan><tspan x="1979" dy="13">识、理论水平得到进一步的提高。</tspan></text></g>
<g id="b2-3d"><rect class="n bo" x="1975" y="1512" width="208" height="34" rx="4"/><text class="to" x="1979" y="1526.5"><tspan x="1979">(四)、加强同事之间的团结互助、互相关心，</tspan><tspan x="1979" dy="13">为全面提高学生素质再作不懈的努力。</tspan></text></g>
<g id="b2-3d1"><rect class="n bo" x="2202" y="1492" width="207" height="73" rx="4"/><text class="to" x="2206" y="1506.5"><tspan x="2206">总之，这学期我们政治备课组的四位老师都在</tspan><tspan x="2206" dy="13">竭心尽力地做好自己的本职工作，且大胆推陈</tspan><tspan x="2206" dy="13">出新，在各个方面都有了很大的发展。在以后</tspan><tspan x="2206" dy="13">的教学中，我们备课组将始终坚持不骄不躁的</tspan><tspan x="2206" dy="13">优良作风，不断创新，将工作做得更好!</tspan></text></g>

<!-- Branch 4 -->
<g id="b4-intro"><rect class="n bp" x="1628" y="1822" width="208" height="47" rx="4"/><text class="tp" x="1632" y="1836.5"><tspan x="1632">时间飞逝，20__年的工作也已经接近尾声，</tspan><tspan x="1632" dy="13">为了更好地做好今后的工作，总结经验、吸取</tspan><tspan x="1632" dy="13">教训，本人特就这年度的工作小结如下：</tspan></text></g>
<g id="b4-1"><rect class="n bp" x="1855" y="1613" width="207" height="34" rx="4"/><text class="tp" x="1859" y="1627.5"><tspan x="1859">一、思想政治表现、品德素质修养及职业道德</tspan><tspan x="1859" dy="13">。</tspan></text></g>
<g id="b4-1a"><rect class="n bp" x="2083" y="1588" width="207" height="86" rx="4"/><text class="tp" x="2087" y="1602.5"><tspan x="2087">能够认真贯彻党的基本路线方针政策，作为党</tspan><tspan x="2087" dy="13">员教师，系统地理解了"持续共产党员先进性</tspan><tspan x="2087" dy="13">教育"培训活动，政治理论进一步加强，党性</tspan><tspan x="2087" dy="13">修养有了进一步的提高;遵纪守法，爱岗敬业</tspan><tspan x="2087" dy="13">，具有强烈的职责感和事业心，用心主动认真</tspan><tspan x="2087" dy="13">的学习专业知识，工作态度端正，认真负责。</tspan></text></g>
<g id="b4-2"><rect class="n bp" x="1855" y="1798" width="128" height="21" rx="4"/><text class="tp" x="1859" y="1812.5">二、专业知识、工作潜力。</text></g>
<g id="b4-2a"><rect class="n bp" x="2002" y="1696" width="208" height="86" rx="4"/><text class="tp" x="2006" y="1710.5"><tspan x="2006">和刚走上工作单位时相比，自己在教育教学潜</tspan><tspan x="2006" dy="13">力方面有了进一步的提升。作为初二班主任，</tspan><tspan x="2006" dy="13">自己能够协助第一班主任参与班级管理。关心</tspan><tspan x="2006" dy="13">班级班风、学风的建设，关心每一个学生的发</tspan><tspan x="2006" dy="13">展，班级工作无小事，就是在每一天繁琐的日</tspan><tspan x="2006" dy="13">常工作中自己不断的积累工作经验。</tspan></text></g>
<g id="b4-2b"><rect class="n bp" x="2002" y="1804" width="208" height="151" rx="4"/><text class="tp" x="2006" y="1818.5"><tspan x="2006">在教学方面，本人自始至终以认真、严谨的治</tspan><tspan x="2006" dy="13">学态度，勤恳、坚持不懈的精神从事教学工作</tspan><tspan x="2006" dy="13">。认真按照学校教学常规的要求做，认真参加</tspan><tspan x="2006" dy="13">备课组的群众备课活动，以用心的态度上好每</tspan><tspan x="2006" dy="13">堂课，在实践中探讨、落实新课程教学理念。</tspan><tspan x="2006" dy="13">自己能认真执行"青蓝工程"，认真参加学校的</tspan><tspan x="2006" dy="13">学习培训和校内校外的教学观摩活动。在教学</tspan><tspan x="2006" dy="13">之余，自己也进行一些教学研究，把平时在教</tspan><tspan x="2006" dy="13">学过程中的所感所想及时总结成文字形式，这</tspan><tspan x="2006" dy="13">不仅仅是一次经验的凝练，也是对教学的再思</tspan><tspan x="2006" dy="13">考，对自己教学理论水平的一次提升。</tspan></text></g>
<g id="b4-3"><rect class="n bp" x="1855" y="2048" width="148" height="21" rx="4"/><text class="tp" x="1859" y="2062.5">三、工作态度和勤奋敬业方面。</text></g>
<g id="b4-3a"><rect class="n bp" x="2022" y="1976" width="208" height="60" rx="4"/><text class="tp" x="2026" y="1990.5"><tspan x="2026">在一年中自己担任一个班级的初二班主任，执</tspan><tspan x="2026" dy="13">教5个班级的思想品德，一星期10节课，工作</tspan><tspan x="2026" dy="13">认真负责，用心参加学校、学科的各项会议、</tspan><tspan x="2026" dy="13">活动，没有缺席和病假。</tspan></text></g>
<g id="b4-3b"><rect class="n bp" x="2022" y="2054" width="208" height="112" rx="4"/><text class="tp" x="2026" y="2068.5"><tspan x="2026">回顾这一年的工作，学校带给了各种让自己快</tspan><tspan x="2026" dy="13">速锻炼成长的平台，学校领导给予自己很多工</tspan><tspan x="2026" dy="13">作上的关心，老教师给自己带给了很多宝贵的</tspan><tspan x="2026" dy="13">经验和帮忙，这一切让自己在各方面都取得不</tspan><tspan x="2026" dy="13">同程度的进步。当然，自己也存在着许多需要</tspan><tspan x="2026" dy="13">改善的地方，在今后的工作中，我将继续以务</tspan><tspan x="2026" dy="13">实的工作态度，一如既往地认真学习工作，争</tspan><tspan x="2026" dy="13">取工作水平的更大提高。</tspan></text></g>

<!-- Branch 6 -->
<g id="b6-1"><rect class="n bb" x="1683" y="2192" width="149" height="21" rx="4"/><text class="tb" x="1687" y="2206.5">★ 关于政治课程教学反思与总结</text></g>
<g id="b6-2"><rect class="n bb" x="1683" y="2236" width="169" height="21" rx="4"/><text class="tb" x="1687" y="2250.5">★ 政治教师教学经验个人总结通用版</text></g>
<g id="b6-3"><rect class="n bb" x="1683" y="2280" width="175" height="21" rx="4"/><text class="tb" x="1687" y="2294.5">★ 中学政治教师个人教学总结报告5篇</text></g>
<g id="b6-4"><rect class="n bb" x="1683" y="2324" width="169" height="21" rx="4"/><text class="tb" x="1687" y="2338.5">★ 政治教师个人履职工作总结万能版</text></g>
<g id="b6-5"><rect class="n bb" x="1683" y="2368" width="145" height="21" rx="4"/><text class="tb" x="1687" y="2382.5">★ 初三政治教学总结及反思5篇</text></g>
<g id="b6-6"><rect class="n bb" x="1683" y="2412" width="175" height="21" rx="4"/><text class="tb" x="1687" y="2426.5">★ 学期末高三政治教学总结与反思5篇</text></g>
<g id="b6-7"><rect class="n bb" x="1683" y="2456" width="179" height="21" rx="4"/><text class="tb" x="1687" y="2470.5">★ 优秀高二政治下学期教学反思及总结</text></g>
<g id="b6-8"><rect class="n bb" x="1683" y="2500" width="189" height="21" rx="4"/><text class="tb" x="1687" y="2514.5">★ 2021年高中政治学科教学工作总结5篇</text></g>
<g id="b6-9"><rect class="n bb" x="1683" y="2544" width="165" height="21" rx="4"/><text class="tb" x="1687" y="2558.5">★ 初中政治线上教学总结与反思5篇</text></g>
<g id="b6-10"><rect class="n bb" x="1683" y="2588" width="205" height="21" rx="4"/><text class="tb" x="1687" y="2602.5">★ 如何开展初中政治教学工作总结与反思5篇</text></g>
</svg>
